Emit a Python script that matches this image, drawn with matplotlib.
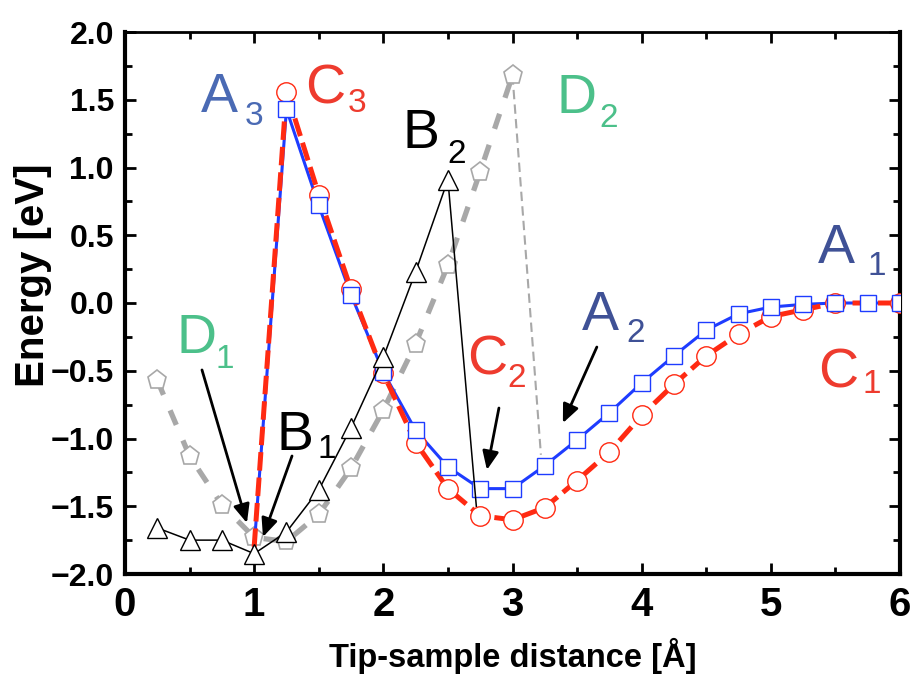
import matplotlib
matplotlib.use("Agg")
import matplotlib.pyplot as plt
from matplotlib.ticker import MultipleLocator

# ---- data -------------------------------------------------------------
# A: path A (blue squares)
A_x = [1.0, 1.25, 1.5, 1.75, 2.0, 2.25, 2.5, 2.75, 3.0, 3.25, 3.5, 3.75,
       4.0, 4.25, 4.5, 4.75, 5.0, 5.25, 5.5, 5.75, 6.0]
A_y = [-1.80, 1.43, 0.72, 0.06, -0.51, -0.94, -1.21, -1.37, -1.37, -1.20,
       -1.01, -0.81, -0.59, -0.39, -0.20, -0.08, -0.03, -0.01, 0.0, 0.0, 0.0]

# C: path C (red circles)
C_x = [1.0, 1.25, 1.5, 1.75, 2.0, 2.25, 2.5, 2.75, 3.0, 3.25, 3.5, 3.75,
       4.0, 4.25, 4.5, 4.75, 5.0, 5.25, 5.5, 6.0]
C_y = [-1.80, 1.56, 0.80, 0.10, -0.52, -1.03, -1.37, -1.57, -1.60, -1.51,
       -1.31, -1.10, -0.83, -0.60, -0.39, -0.23, -0.10, -0.05, 0.0, 0.0]

# B: path B (black triangles); the last point closes the jump
B_x = [0.25, 0.5, 0.75, 1.0, 1.25, 1.5, 1.75, 2.0, 2.25, 2.5, 2.72]
B_y = [-1.66, -1.75, -1.75, -1.85, -1.69, -1.38, -0.92, -0.40, 0.23, 0.91, -1.50]

# D: path D (grey pentagons); the last point closes the jump
D_x = [0.25, 0.5, 0.75, 1.0, 1.25, 1.5, 1.75, 2.0, 2.25, 2.5, 2.75, 3.0, 3.22]
D_y = [-0.57, -1.13, -1.49, -1.73, -1.76, -1.56, -1.22, -0.79, -0.30, 0.28,
       0.97, 1.68, -1.12]

x_ticks = [0, 1, 2, 3, 4, 5, 6]
x_tick_labels = ["0", "1", "2", "3", "4", "5", "6"]
y_ticks = [-2.0, -1.5, -1.0, -0.5, 0.0, 0.5, 1.0, 1.5, 2.0]
y_tick_labels = ["\u22122.0", "\u22121.5", "\u22121.0", "\u22120.5", "0.0",
                 "0.5", "1.0", "1.5", "2.0"]

# ---- colours ----------------------------------------------------------
BLUE = "#1e3cff"
RED = "#ff2a12"
GREY = "#a8a8a8"
LBL_A = "#4a6ab4"
LBL_A_DIM = "#3f5196"
LBL_C = "#ee3b2e"
LBL_D = "#4cc08a"

FONT = ["Liberation Sans", "DejaVu Sans"]

fig = plt.figure(figsize=(9.16, 6.83), dpi=100)
ax = fig.add_axes([125 / 916, 1 - 574 / 683, 775 / 916, 542 / 683])
ax.set_xlim(0, 6)
ax.set_ylim(-2, 2)

# path D
ax.plot(D_x[:-1], D_y[:-1], color=GREY, lw=3.8, dashes=(3, 3.2), zorder=1)
ax.plot(D_x[-2:], D_y[-2:], color=GREY, lw=1.5, dashes=(4.5, 2.5), zorder=1)
ax.plot(D_x[:-1], D_y[:-1], ls="none", marker="p", ms=14, mfc="white",
        mec=GREY, mew=1.2, zorder=2)

# path A line, path C line
ax.plot(A_x, A_y, color=BLUE, lw=2.2, zorder=4)
ax.plot(C_x, C_y, color=RED, lw=3.6, dashes=(3.7, 1.4), zorder=5)
ax.plot(C_x[1:], C_y[1:], ls="none", marker="o", ms=14, mfc="white",
        mec=RED, mew=1.0, zorder=6)
ax.plot(A_x[1:], A_y[1:], ls="none", marker="s", ms=11, mfc="white",
        mec=BLUE, mew=1.0, zorder=7)

# path B
ax.plot(B_x, B_y, color="black", lw=1.1, zorder=8)
ax.plot(B_x[:-1], B_y[:-1], ls="none", marker="^", ms=15, mfc="white",
        mec="black", mew=1.0, zorder=9)

# ---- state labels (letter + subscript) --------------------------------
labels = [
    ("A", "3", (0.588, 1.410), (0.929, 1.314), LBL_A),
    ("C", "3", (1.393, 1.476), (1.726, 1.410), LBL_C),
    ("B", "2", (2.152, 1.144), (2.492, 1.033), "black"),
    ("D", "2", (3.344, 1.402), (3.669, 1.299), LBL_D),
    ("A", "1", (5.364, 0.295), (5.751, 0.207), LBL_A_DIM),
    ("C", "1", (5.364, -0.620), (5.712, -0.664), LBL_C),
    ("A", "2", (3.537, -0.199), (3.885, -0.288), LBL_A_DIM),
    ("C", "2", (2.647, -0.524), (2.964, -0.620), LBL_C),
    ("D", "1", (0.402, -0.369), (0.697, -0.480), LBL_D),
    ("B", "1", (1.176, -1.085), (1.494, -1.144), "black"),
]
for main, sub, p_main, p_sub, col in labels:
    ax.text(*p_main, main, fontsize=40, color=col, family=FONT,
            ha="left", va="baseline", zorder=10)
    ax.text(*p_sub, sub, fontsize=24, color=col, family=FONT,
            ha="left", va="baseline", zorder=10)

# ---- arrows -----------------------------------------------------------
arrows = [
    ((0.596, -0.494), (0.944, -1.624)),
    ((1.293, -1.129), (1.068, -1.727)),
    ((2.895, -0.775), (2.802, -1.232)),
    ((3.653, -0.325), (3.390, -0.886)),
]
for start, tip in arrows:
    ax.annotate("", xy=tip, xytext=start,
                arrowprops=dict(arrowstyle="-|>,head_length=0.8,head_width=0.35",
                                color="black", lw=2.0, shrinkA=0, shrinkB=0,
                                mutation_scale=14),
                zorder=11)

# ---- axes styling -----------------------------------------------------
for side in ("left", "bottom", "right"):
    ax.spines[side].set_linewidth(3.0)
ax.spines["top"].set_linewidth(2.0)

ax.set_xticks(x_ticks)
ax.set_xticklabels(x_tick_labels)
ax.set_yticks(y_ticks)
ax.set_yticklabels(y_tick_labels)
ax.xaxis.set_minor_locator(MultipleLocator(0.5))
ax.yaxis.set_minor_locator(MultipleLocator(0.25))
ax.tick_params(which="both", direction="in", top=True, right=True,
               width=2.0, color="black")
ax.tick_params(which="major", length=8)
ax.tick_params(which="minor", length=5)
ax.tick_params(axis="x", which="major", pad=9)
ax.tick_params(axis="y", which="major", pad=8)

for t in ax.get_xticklabels():
    t.set_family(FONT)
    t.set_fontsize(29)
    t.set_fontweight("bold")
for t in ax.get_yticklabels():
    t.set_family(FONT)
    t.set_fontsize(23)
    t.set_fontweight("bold")

ax.set_xlabel("Tip-sample distance [Å]", family=FONT, fontsize=23.5,
              fontweight="bold")
ax.xaxis.set_label_coords(0.5, -0.118)
ax.set_ylabel("Energy [eV]", family=FONT, fontsize=29, fontweight="bold")
ax.yaxis.set_label_coords(-0.094, 0.552)

fig.savefig("out.png", dpi=100)
